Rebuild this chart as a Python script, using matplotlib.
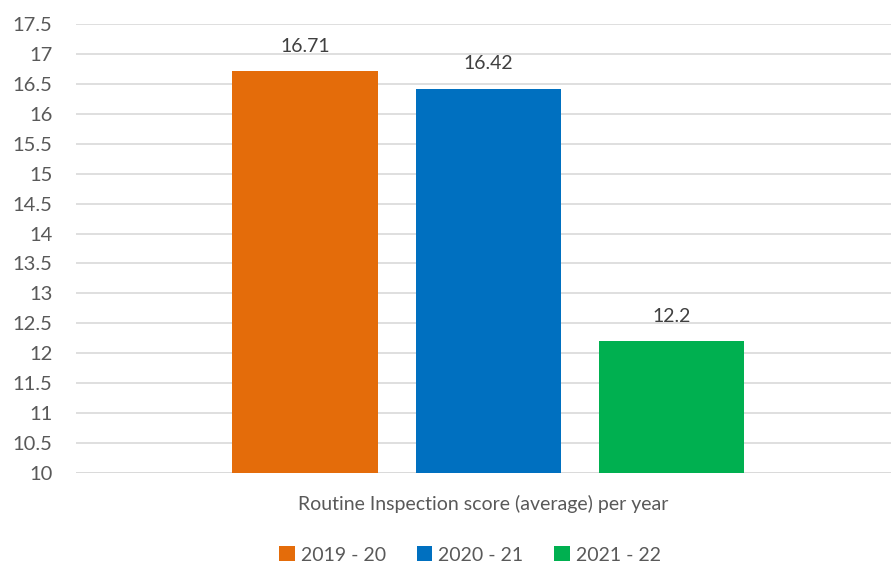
import matplotlib.pyplot as plt
import numpy as np

plt.rcParams['font.family'] = ['Lato', 'DejaVu Sans']

years = ['2019 - 20', '2020 - 21', '2021 - 22']
scores = [16.71, 16.42, 12.2]
score_labels = ['16.71', '16.42', '12.2']
colors = ['#E46C0A', '#0070C0', '#00B050']
yticks = np.arange(10, 17.51, 0.5)
ytick_labels = ['10', '10.5', '11', '11.5', '12', '12.5', '13', '13.5',
                '14', '14.5', '15', '15.5', '16', '16.5', '17', '17.5']

text_color = '#595959'

fig = plt.figure(figsize=(8.91, 5.68), dpi=100)
ax = fig.add_axes([0.0853, 0.1673, 0.9147, 0.7904])

offsets = [-0.225, 0.0, 0.225]
center = 0.506
for i, (yr, val) in enumerate(zip(years, scores)):
    ax.bar(center + offsets[i], val - 10, bottom=10, width=0.178,
           color=colors[i], label=yr, zorder=3)
    ax.text(center + offsets[i], val + 0.28, score_labels[i], ha='center',
            va='bottom', fontsize=14, color='#404040')

ax.set_xlim(0, 1)
ax.set_ylim(10, 17.5)
ax.set_yticks(yticks)
ax.set_yticklabels(ytick_labels)
ax.set_xticks([])
ax.yaxis.grid(True, color='#D9D9D9', linewidth=1.2, zorder=0)
ax.tick_params(axis='y', length=0, pad=17, labelsize=14.5, labelcolor=text_color)
for s in ax.spines.values():
    s.set_visible(False)
ax.axhline(10, color='#D9D9D9', linewidth=1.2, zorder=1)

ax.set_xlabel('Routine Inspection score (average) per year', fontsize=14,
              color=text_color, labelpad=16)

fig.legend(loc='center', bbox_to_anchor=(470 / 891, 1 - 555 / 568), ncol=3,
           frameon=False, fontsize=14, labelcolor=text_color,
           handlelength=0.8, handleheight=0.8, handletextpad=0.3,
           columnspacing=1.6)

fig.savefig('out.png', dpi=100)
